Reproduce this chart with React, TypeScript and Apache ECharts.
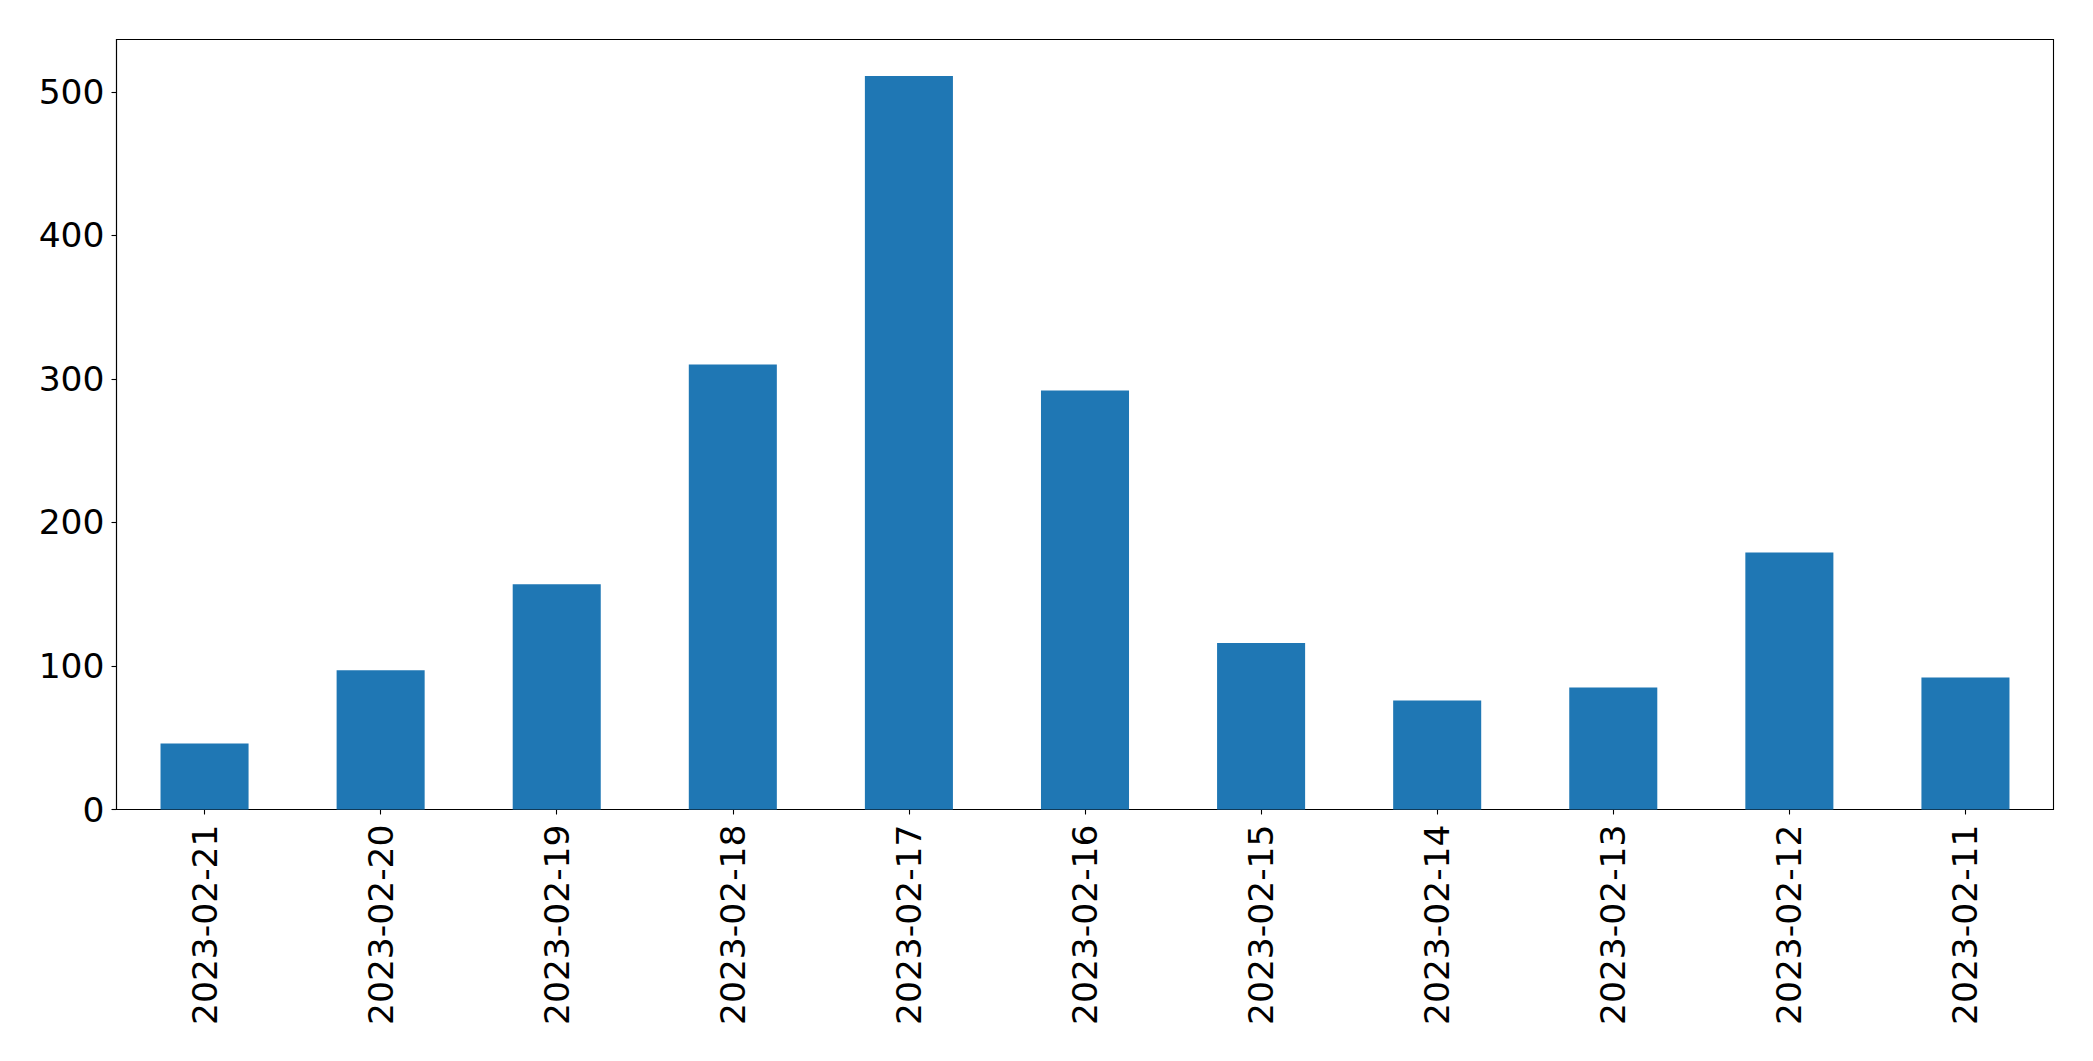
import React, { useEffect, useRef } from "react";
import * as echarts from "echarts";

const categories = [
  "2023-02-21",
  "2023-02-20",
  "2023-02-19",
  "2023-02-18",
  "2023-02-17",
  "2023-02-16",
  "2023-02-15",
  "2023-02-14",
  "2023-02-13",
  "2023-02-12",
  "2023-02-11",
];
const counts = [46, 97, 157, 310, 511, 292, 116, 76, 85, 179, 92];
const yMax = 536.5;
const yInterval = 100;

export default function App() {
  const ref = useRef<HTMLDivElement>(null);
  useEffect(() => {
    document.body.style.margin = "0";
    const chart = echarts.init(ref.current!, null, { renderer: "svg" });
    const font = "DejaVu Sans";
    chart.setOption({
      animation: false,
      backgroundColor: "#ffffff",
      grid: {
        left: 116.5,
        top: 39.5,
        right: 39.5,
        bottom: 251.5,
        containLabel: false,
        show: true,
        borderColor: "#000000",
        borderWidth: 1.1,
      },
      xAxis: {
        type: "category",
        data: categories,
        boundaryGap: true,
        axisLine: { show: true, lineStyle: { color: "#000000", width: 1.1 } },
        axisTick: {
          show: true,
          alignWithLabel: true,
          inside: false,
          length: 5,
          lineStyle: { color: "#000000", width: 1.1 },
        },
        axisLabel: {
          rotate: 90,
          fontSize: 34.5,
          fontFamily: font,
          color: "#000000",
          margin: 15,
          interval: 0,
        },
        splitLine: { show: false },
      },
      yAxis: {
        type: "value",
        min: 0,
        max: yMax,
        interval: yInterval,
        axisLine: { show: true, lineStyle: { color: "#000000", width: 1.1 } },
        axisTick: {
          show: true,
          inside: false,
          length: 5,
          lineStyle: { color: "#000000", width: 1.1 },
        },
        axisLabel: {
          fontSize: 34.5,
          fontFamily: font,
          color: "#000000",
          margin: 12,
          showMaxLabel: false,
          formatter: (v: number) => (v % yInterval === 0 ? String(v) : ""),
        },
        splitLine: { show: false },
      },
      series: [
        {
          type: "bar",
          data: counts,
          barWidth: "50%",
          itemStyle: { color: "#1f77b4" },
        },
      ],
    });
    return () => chart.dispose();
  }, []);
  return (
    <div
      ref={ref}
      style={{ position: "absolute", left: 0, top: 0, width: 2093, height: 1061 }}
    />
  );
}
